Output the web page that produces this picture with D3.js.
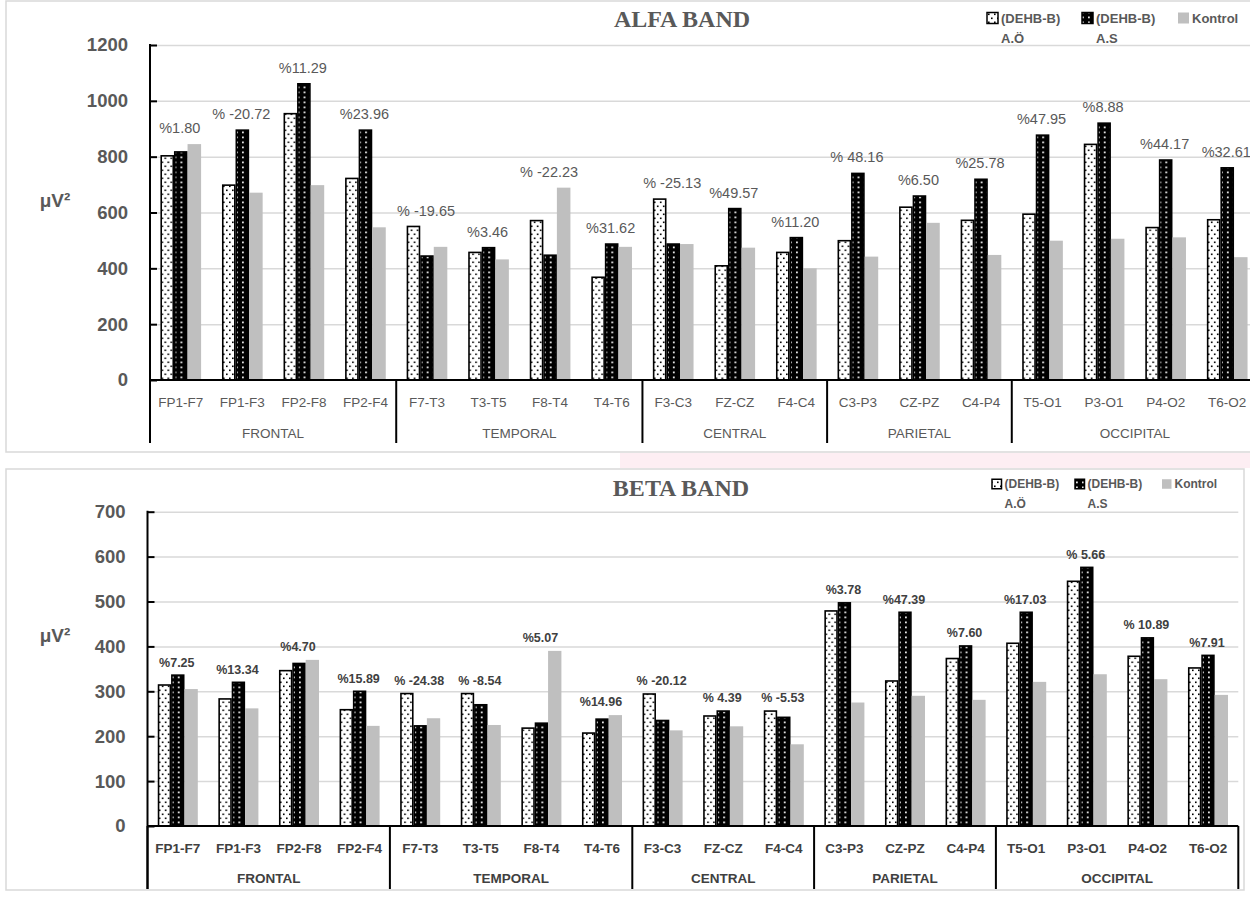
<!DOCTYPE html>
<html>
<head>
<meta charset="utf-8">
<script src="https://cdn.jsdelivr.net/npm/d3@7"></script>
<style>
  html, body { margin: 0; padding: 0; background: #ffffff; }
  svg { display: block; }
  text { font-family: "Liberation Sans", Arial, sans-serif; }
</style>
</head>
<body>
<svg id="chart" width="1250" height="897"></svg>
<script>
// ---------------- DATA ----------------
const categories = ["FP1-F7","FP1-F3","FP2-F8","FP2-F4","F7-T3","T3-T5","F8-T4","T4-T6","F3-C3","FZ-CZ","F4-C4","C3-P3","CZ-PZ","C4-P4","T5-O1","P3-O1","P4-O2","T6-O2"];
const regionNames = ["FRONTAL","TEMPORAL","CENTRAL","PARIETAL","OCCIPITAL"];
const regionSizes = [4,4,3,3,4];
const seriesKeys = ["AO","AS","Kontrol"];
const seriesLine1 = ["(DEHB-B)","(DEHB-B)","Kontrol"];
const seriesLine2 = ["A.Ö","A.S",""];

const alfaAO      = [803,698,954,722,550,457,571,368,648,409,457,499,619,572,594,844,546,574];
const alfaAS      = [817,895,1061,895,444,474,447,487,487,614,510,740,659,719,877,920,788,760];
const alfaKontrol = [845,671,698,547,477,432,689,477,487,474,400,442,563,448,499,506,511,440];
const alfaLabels  = ["%1.80","% -20.72","%11.29","%23.96","% -19.65","%3.46","% -22.23","%31.62","% -25.13","%49.57","%11.20","% 48.16","%6.50","%25.78","%47.95","%8.88","%44.17","%32.61"];
const alfaTicks   = [0,200,400,600,800,1000,1200];

const betaAO      = [314,283,346,259,295,295,218,207,294,245,256,479,323,373,407,545,378,352];
const betaAS      = [336,320,362,300,223,270,229,238,235,256,242,497,476,401,476,576,419,380];
const betaKontrol = [305,262,370,223,240,225,390,247,213,222,182,275,290,281,321,338,327,292];
const betaLabels  = ["%7.25","%13.34","%4.70","%15.89","% -24.38","% -8.54","%5.07","%14.96","% -20.12","% 4.39","% -5.53","%3.78","%47.39","%7.60","%17.03","% 5.66","% 10.89","%7.91"];
const betaTicks   = [0,100,200,300,400,500,600,700];

// ---------------- DRAW ----------------
const svg = d3.select("#chart");
svg.append("rect").attr("width",1250).attr("height",897).attr("fill","#ffffff");
// faint watermark band between panels
svg.append("rect").attr("x",620).attr("y",453).attr("width",630).attr("height",15).attr("fill","#fdeef3");

const defs = svg.append("defs");
const pAO = defs.append("pattern").attr("id","patAO").attr("patternUnits","userSpaceOnUse").attr("width",6).attr("height",8);
pAO.append("rect").attr("width",6).attr("height",8).attr("fill","#ffffff");
pAO.append("rect").attr("x",1).attr("y",1.5).attr("width",1.6).attr("height",1.6).attr("fill","#000");
pAO.append("rect").attr("x",4).attr("y",5.5).attr("width",1.6).attr("height",1.6).attr("fill","#000");
const pAS = defs.append("pattern").attr("id","patAS").attr("patternUnits","userSpaceOnUse").attr("width",6).attr("height",5);
pAS.append("rect").attr("width",6).attr("height",5).attr("fill","#000000");
pAS.append("rect").attr("x",2).attr("y",1.5).attr("width",1.8).attr("height",1.8).attr("fill","#e8e8e8");

const fills = {AO:"url(#patAO)", AS:"url(#patAS)", Kontrol:"#bfbfbf"};
const strokes = {AO:"#000", AS:"#000", Kontrol:"none"};

function drawPanel(p) {
  const g = svg.append("g");
  g.append("rect").attr("x",p.box[0]).attr("y",p.box[1]).attr("width",p.box[2]-p.box[0]).attr("height",p.box[3]-p.box[1])
    .attr("fill","#ffffff").attr("stroke","#d9d9d9").attr("stroke-width",1.5);

  const x = d3.scaleBand().domain(categories).range([p.x0,p.x1]).paddingInner(0.34).paddingOuter(0.17);
  const xs = d3.scaleBand().domain(seriesKeys).range([0,x.bandwidth()]);
  const y = d3.scaleLinear().domain([0,d3.max(p.ticks)]).range([p.yBase,p.yTop]);

  // gridlines
  g.append("g").attr("transform",`translate(${p.x0},0)`)
    .call(d3.axisLeft(y).tickValues(p.ticks.slice(1)).tickSize(-(p.x1-p.x0)).tickFormat(""))
    .call(s => s.select(".domain").remove())
    .selectAll("line").attr("stroke","#d9d9d9").attr("stroke-width",1.5);

  // bars
  const rows = categories.map((c,i) => ({cat:c, AO:p.ao[i], AS:p.as[i], Kontrol:p.k[i], label:p.labels[i]}));
  const grp = g.append("g").selectAll("g").data(rows).join("g")
    .attr("transform", d => `translate(${x(d.cat)},0)`);
  grp.selectAll("rect").data(d => seriesKeys.map(k => ({k, v:d[k]}))).join("rect")
    .attr("x", d => xs(d.k) + (d.k === "Kontrol" ? 0 : 0.75))
    .attr("width", d => xs.bandwidth() - (d.k === "Kontrol" ? 0 : 1.5))
    .attr("y", d => y(d.v))
    .attr("height", d => y(0) - y(d.v))
    .attr("fill", d => fills[d.k])
    .attr("stroke", d => strokes[d.k])
    .attr("stroke-width", 1.6);

  // percentage labels
  g.append("g").selectAll("text").data(rows).join("text")
    .attr("x", d => x(d.cat) + x.bandwidth()/2 - 1)
    .attr("y", d => y(Math.max(d.AO,d.AS,d.Kontrol)) - p.labelOffset)
    .attr("dy","0.35em")
    .attr("text-anchor","middle")
    .attr("font-size", p.labelSize).attr("font-weight", p.labelWeight).attr("fill", p.labelColor)
    .text(d => d.label);

  // y axis
  const ya = g.append("g").attr("transform",`translate(${p.x0},0)`)
    .call(d3.axisLeft(y).tickValues(p.ticks).tickSizeInner(-7).tickSizeOuter(0).tickPadding(22).tickFormat(d3.format("d")));
  ya.select(".domain").remove();
  ya.selectAll("line").attr("stroke","#000").attr("stroke-width",2);
  ya.selectAll("text").attr("font-size",18.5).attr("font-weight","bold").attr("fill","#595959")
    .style("font-family","'Liberation Sans', Arial, sans-serif");
  g.append("line").attr("x1",p.x0).attr("x2",p.x0).attr("y1",p.yTop-1).attr("y2",p.sepBottom).attr("stroke","#000").attr("stroke-width",2);

  // x axis
  g.append("line").attr("x1",p.x0).attr("x2",p.x1).attr("y1",y(0)).attr("y2",y(0)).attr("stroke","#000").attr("stroke-width",2);
  const xa = g.append("g").attr("transform",`translate(0,${y(0)})`)
    .call(d3.axisBottom(x).tickSize(0).tickPadding(0));
  xa.select(".domain").remove();
  xa.selectAll("text").attr("y",p.catY - y(0)).attr("dy","0.35em")
    .attr("font-size",13.5).attr("font-weight",p.catWeight).attr("fill",p.catColor)
    .style("font-family","'Liberation Sans', Arial, sans-serif");

  // region separators and labels
  let start = 0;
  const bounds = [0];
  regionSizes.forEach(n => { start += n; bounds.push(start); });
  bounds.forEach(b => {
    const bx = p.x0 + b * x.step();
    g.append("line").attr("x1",bx).attr("x2",bx).attr("y1",y(0)).attr("y2",p.sepBottom).attr("stroke","#000").attr("stroke-width",2);
  });
  regionNames.forEach((name,i) => {
    const cx = p.x0 + (bounds[i] + bounds[i+1]) / 2 * x.step();
    g.append("text").attr("x",cx).attr("y",p.groupY).attr("dy","0.35em").attr("text-anchor","middle")
      .attr("font-size",13.5).attr("font-weight",p.catWeight).attr("fill",p.catColor).text(name);
  });

  // title
  g.append("text").attr("x",p.titleX).attr("y",p.titleY).attr("dy","0.35em").attr("text-anchor","middle")
    .style("font-family","'Liberation Serif', 'Times New Roman', serif")
    .attr("font-size",24).attr("font-weight","bold").attr("fill","#595959").text(p.title);

  // y label
  g.append("text").attr("x",55).attr("y",p.unitY).attr("dy","0.35em").attr("text-anchor","middle")
    .attr("font-size",19).attr("font-weight","bold").attr("fill","#595959").text("μV²");

  // legend
  seriesKeys.forEach((k,i) => {
    const lx = p.legendX[i];
    g.append("rect").attr("x",lx).attr("y",p.legendY - p.sq/2).attr("width",p.sq).attr("height",p.sq)
      .attr("fill",fills[k]).attr("stroke",strokes[k]).attr("stroke-width",1.5);
    g.append("text").attr("x",lx + p.sq + 3).attr("y",p.legendY).attr("dy","0.35em")
      .attr("font-size",p.legendSize).attr("font-weight","bold").attr("fill","#595959").text(seriesLine1[i]);
    if (seriesLine2[i]) {
      g.append("text").attr("x",lx + p.sq + 3).attr("y",p.legendY + 20).attr("dy","0.35em")
        .attr("font-size",p.legendSize).attr("font-weight","bold").attr("fill","#595959").text(seriesLine2[i]);
    }
  });
}

drawPanel({
  box:[6,1,1270,452], x0:150, x1:1258, yTop:45, yBase:380, ticks:alfaTicks,
  ao:alfaAO, as:alfaAS, k:alfaKontrol, labels:alfaLabels,
  labelOffset:16, labelSize:14.5, labelWeight:"normal", labelColor:"#595959",
  catY:402, groupY:433, sepBottom:443, catWeight:"normal", catColor:"#595959",
  title:"ALFA BAND", titleX:682, titleY:19, unitY:200,
  legendX:[987,1082,1178], legendY:18, sq:11, legendSize:13
});

drawPanel({
  box:[6,469,1244,890], x0:147.5, x1:1238.3, yTop:511.7, yBase:826, ticks:betaTicks,
  ao:betaAO, as:betaAS, k:betaKontrol, labels:betaLabels,
  labelOffset:13, labelSize:12.5, labelWeight:"bold", labelColor:"#404040",
  catY:848, groupY:878, sepBottom:889, catWeight:"bold", catColor:"#404040",
  title:"BETA BAND", titleX:681, titleY:488, unitY:635,
  legendX:[992,1075,1162], legendY:484, sq:9.5, legendSize:12
});
</script>
</body>
</html>
